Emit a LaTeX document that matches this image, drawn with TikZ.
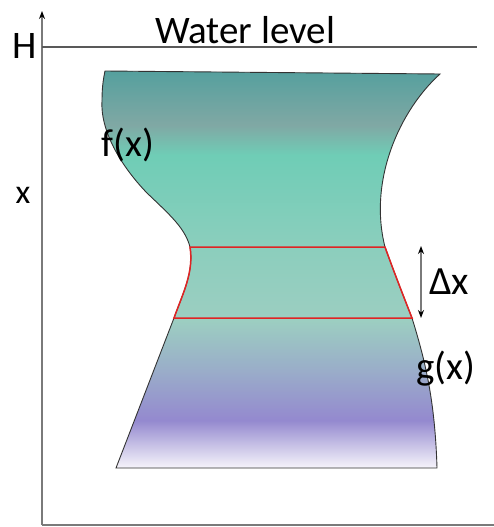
\documentclass[tikz,border=0pt]{standalone}
\usepackage{fontspec}
\setmainfont{Carlito}
\usetikzlibrary{arrows.meta}
\definecolor{c0}{HTML}{F6F4FB}
\definecolor{c1}{HTML}{DCD8EF}
\definecolor{c2}{HTML}{9489CF}
\definecolor{c3}{HTML}{9AADC9}
\definecolor{c4}{HTML}{9CCEC1}
\definecolor{c5}{HTML}{8CCEBD}
\definecolor{c6}{HTML}{6FCDB6}
\definecolor{c7}{HTML}{80A8A4}
\definecolor{c8}{HTML}{55A09E}
\definecolor{bandred}{HTML}{E02424}
\definecolor{axisgray}{HTML}{7A7A7A}
\pgfdeclareverticalshading{tankshade}{100bp}{color(0bp)=(c0); color(25bp)=(c0); color(26.6bp)=(c1); color(31bp)=(c2); color(37.3bp)=(c3); color(43.6bp)=(c4); color(52.5bp)=(c5); color(64.4bp)=(c6); color(68.2bp)=(c7); color(75bp)=(c8); color(100bp)=(c8)}
\tikzset{
  axisline/.style={draw=axisgray, line width=1.4pt},
  lbl/.style={inner sep=0pt, font=\fontsize{39}{44}\selectfont},
  outline/.style={draw=black!80, line width=0.9pt},
  band/.style={draw=bandred, line width=1.5pt},
}
\begin{document}
\begin{tikzpicture}[x=1pt,y=-1pt]
\useasboundingbox (0,0) rectangle (494,527);
% axes
\coordinate (O) at (42,525);
\coordinate (ytop) at (42,11);
\coordinate (xend) at (494,525);
\coordinate (wl1) at (42,47);
\coordinate (wl2) at (477,47);
\draw[axisline, -{Stealth[black,length=8pt,width=6pt]}] (O) -- (ytop);
\draw[axisline] (O) -- (xend);
\draw[draw=black!65, line width=1.2pt] (wl1) -- (wl2);
% tank shape
\shade[shading=tankshade, outline]
  (105,71) -- (440,74)
  .. controls (400,110) and (368,180) .. (385,247)
  .. controls (394,272) and (403,295) .. (412,318)
  .. controls (425,360) and (435,400) .. (437,468)
  -- (116,468) -- (174,318)
  .. controls (183,293) and (194,272) .. (190,247)
  .. controls (185,228) and (170,215) .. (147,193)
  .. controls (120,165) and (100,130) .. (102,100)
  .. controls (102,85) and (104,76) .. (105,71) -- cycle;
% red band
\draw[band] (190,247) -- (385,247)
  .. controls (394,272) and (403,295) .. (412,318)
  -- (174,318)
  .. controls (183,293) and (194,272) .. (190,247) -- cycle;
% delta x arrow
\coordinate (da) at (421,246);
\coordinate (db) at (421,318);
\draw[axisgray, line width=1.2pt, {Stealth[black,length=8pt,width=6pt]}-{Stealth[black,length=8pt,width=6pt]}] (da) -- (db);
% labels
\node[lbl] (wl) at (245,30) {Water level};
\node[lbl] (H) at (25,46) {H};
\node[lbl, font=\fontsize{34}{38}\selectfont] (xl) at (23,195) {x};
\node[lbl] (fx) at (128,145) {f(x)};
\node[lbl] (gx) at (446,369) {g(x)};
\node[lbl, font=\fontsize{40}{44}\selectfont] (dx) at (449,282) {Δx};
\end{tikzpicture}
\end{document}
